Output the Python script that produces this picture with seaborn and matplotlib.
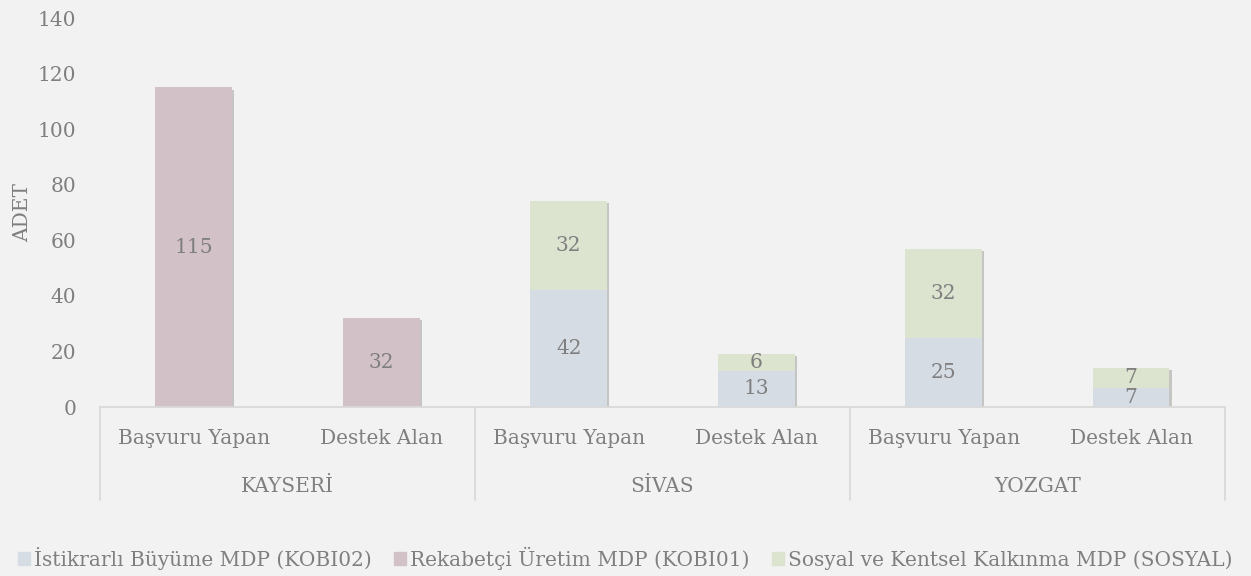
import pandas as pd
import numpy as np
import matplotlib.pyplot as plt
import matplotlib.patheffects as pe
import seaborn as sns

# data
iller = ["KAYSERİ", "SİVAS", "YOZGAT"]
durumlar = ["Başvuru Yapan", "Destek Alan"]
istikrarli = [0, 0, 42, 13, 25, 7]     # İstikrarlı Büyüme MDP (KOBI02)
rekabetci = [115, 32, 0, 0, 0, 0]      # Rekabetçi Üretim MDP (KOBI01)
sosyal = [0, 0, 32, 6, 32, 7]          # Sosyal ve Kentsel Kalkınma MDP (SOSYAL)
seri_adlari = ["İstikrarlı Büyüme MDP (KOBI02)",
               "Rekabetçi Üretim MDP (KOBI01)",
               "Sosyal ve Kentsel Kalkınma MDP (SOSYAL)"]
renkler = ["#D5DCE4", "#D2C1C7", "#DCE3CF"]
yticks = [0, 20, 40, 60, 80, 100, 120, 140]

bg = "#F2F2F2"
txt = "#7F7F7F"
fs = 14.5
sns.set_style("white")
plt.rcParams['font.family'] = ['DejaVu Serif']

keys = [f"{il}|{d}" for il in iller for d in durumlar]
df = pd.DataFrame({"key": keys, "ist": istikrarli, "rek": rekabetci, "sos": sosyal})
df["c1"] = df["ist"]
df["c2"] = df["ist"] + df["rek"]
df["c3"] = df["c2"] + df["sos"]

fig = plt.figure(figsize=(12.51, 5.76), dpi=100, facecolor=bg)
ax = fig.add_axes([0.08, 0.2934, 0.899, 0.6753])
ax.set_facecolor(bg)

shadow = [pe.SimplePatchShadow(offset=(1.5, -1.5), alpha=0.25), pe.Normal()]
# stacked via overlay: draw cumulative totals, top layer first
for col, color in [("c3", renkler[2]), ("c2", renkler[1]), ("c1", renkler[0])]:
    sns.barplot(data=df, x="key", y=col, order=keys, color=color, width=0.41,
                saturation=1, ax=ax, linewidth=0)
for i, p in enumerate(ax.patches):
    if i < len(keys):
        p.set_path_effects(shadow)

ax.set_ylim(0, 140)
ax.set_xlim(-0.5, len(keys) - 0.5)
ax.set_yticks(yticks)
ax.set_yticklabels([str(t) for t in yticks], fontsize=fs, color=txt)
ax.tick_params(axis="y", length=0, pad=17)
ax.set_xticks([])
ax.set_xlabel("")
ax.set_ylabel("ADET", fontsize=fs, color=txt)
ax.yaxis.set_label_coords(-0.0605, 0.5)
for s in ["top", "right", "left"]:
    ax.spines[s].set_visible(False)
ax.spines["bottom"].set_color("#D9D9D9")
ax.spines["bottom"].set_linewidth(1.3)

# value labels
for i in range(len(keys)):
    alt = 0
    for v in [istikrarli[i], rekabetci[i], sosyal[i]]:
        if v > 0:
            ax.text(i, alt + v / 2, str(v), ha="center", va="center",
                    fontsize=fs, color=txt)
        alt += v

# multi-level x axis
tr = ax.get_xaxis_transform()
for i, k in enumerate(keys):
    ax.text(i, -0.08, k.split("|")[1], transform=tr, ha="center", va="center",
            fontsize=fs, color=txt)
for g, il in enumerate(iller):
    ax.text(2 * g + 0.5, -0.205, il, transform=tr, ha="center", va="center",
            fontsize=fs, color=txt)
for b in [-0.5, 1.5, 3.5, 5.5]:
    ax.plot([b, b], [0, -0.24], transform=tr, color="#D9D9D9", lw=1.3, clip_on=False)

handles = [plt.Rectangle((0, 0), 1, 1, color=c) for c in renkler]
fig.legend(handles, seri_adlari, loc="center", bbox_to_anchor=(0.5, 0.031), ncol=3,
           frameon=False, fontsize=fs, labelcolor=txt, handlelength=0.6,
           handleheight=0.6, handletextpad=0.2, columnspacing=1.1)

fig.savefig("out.png", dpi=100, facecolor=bg)
